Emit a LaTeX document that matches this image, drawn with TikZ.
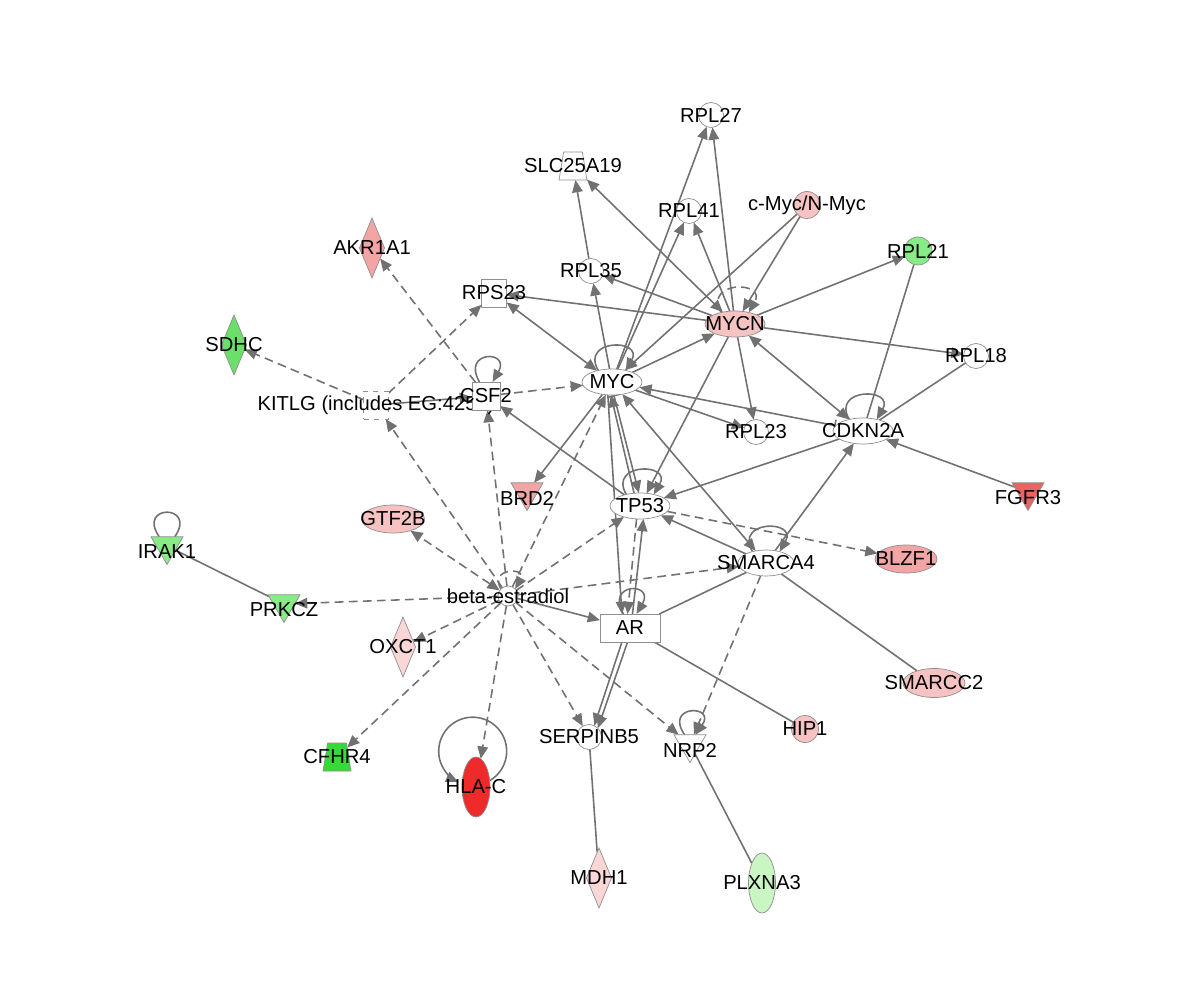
\documentclass[tikz,border=0pt]{standalone}
\usepackage{fontspec}
\setmainfont{Liberation Sans}
\usetikzlibrary{arrows.meta,shapes.geometric}

\definecolor{edgegray}{HTML}{717171}
\definecolor{rimgray}{HTML}{8F8F8F}
\definecolor{upfaint}{HTML}{FAD6D6}
\definecolor{uplow}{HTML}{F7C2C2}
\definecolor{upmid}{HTML}{F3A5A5}
\definecolor{upfgfr}{HTML}{EA6464}
\definecolor{uptop}{HTML}{EF2A2A}
\definecolor{dnfaint}{HTML}{C9F6C3}
\definecolor{dnlow}{HTML}{86EC86}
\definecolor{dnmid}{HTML}{6ADF6A}
\definecolor{dnhigh}{HTML}{36D936}

\pgfdeclarelayer{background}
\pgfsetlayers{background,main}

\tikzset{
  gene/.style={draw=rimgray, line width=0.4pt, fill=white, inner sep=0pt, outer sep=0pt},
  other/.style={gene, circle, minimum size=0.5cm},
  tfac/.style={gene, ellipse, minimum width=1.2cm, minimum height=0.52cm},
  enzyme/.style={gene, diamond, minimum width=0.5cm, minimum height=1.2cm},
  kinase/.style={gene, inner sep=0.5pt, regular polygon, regular polygon sides=3, shape border rotate=180, minimum size=0.74cm},
  transp/.style={gene, inner sep=1pt, trapezium, trapezium angle=76, trapezium stretches=true, minimum width=0.56cm, minimum height=0.56cm},
  cytok/.style={gene, rectangle, minimum width=0.5cm, minimum height=0.56cm},
  growth/.style={cytok, dashed},
  recep/.style={gene, rectangle, minimum width=1.2cm, minimum height=0.56cm},
  chem/.style={gene, circle, minimum size=0.4cm},
  kl/.style={yshift=-0.12cm},
  every label/.style={inner sep=0pt, text=black},
  ind/.style={dash pattern=on 5pt off 3pt}
}

\begin{document}
\begin{tikzpicture}[x=0.02cm, y=-0.02cm, font=\fontsize{11.5}{13}\selectfont,
  >={Triangle[length=7pt,width=6pt]}]
	\useasboundingbox (0,0) rectangle (1200,1006);

	\node[other, label=center:RPL27] (rpl27) at (711,115) {};
	\node[transp, label=center:SLC25A19] (slc) at (573,166) {};
	\node[other, label=center:RPL41] (rpl41) at (689,211) {};
	\node[other, fill=uplow, minimum size=0.54cm, label=center:c-Myc/N-Myc] (cmyc) at (807,205) {};
	\node[other, label=center:RPL35] (rpl35) at (591,271) {};
	\node[cytok, label=center:RPS23] (rps23) at (494,293) {};
	\node[enzyme, fill=upmid, label=center:AKR1A1] (akr) at (372,248) {};
	\node[other, fill=dnlow, minimum size=0.56cm, label=center:RPL21] (rpl21) at (918,251) {};
	\node[enzyme, fill=dnmid, label=center:SDHC] (sdhc) at (234,345) {};
	\node[tfac, fill=uplow, label=center:MYCN] (mycn) at (735,324) {};
	\node[other, label=center:RPL18] (rpl18) at (976,356) {};
	\node[tfac, label=center:MYC] (myc) at (612,382) {};
	\node[growth, label=center:{KITLG (includes EG:4254)}] (kitlg) at (376,405) {};
	\node[cytok, minimum width=0.56cm, label=center:CSF2] (csf2) at (486,396) {};
	\node[other, label=center:RPL23] (rpl23) at (756,432) {};
	\node[tfac, label=center:CDKN2A] (cdkn2a) at (863,431) {};
	\node[kinase, fill=upfgfr, label={[kl]center:FGFR3}] (fgfr3) at (1028,492) {};
	\node[kinase, fill=upmid, label={[kl]center:BRD2}] (brd2) at (527,492) {};
	\node[tfac, label=center:TP53] (tp53) at (640,506) {};
	\node[tfac, fill=uplow, minimum width=1.26cm, minimum height=0.56cm, label=center:GTF2B] (gtf2b) at (393,519) {};
	\node[tfac, fill=upmid, minimum width=1.24cm, minimum height=0.56cm, label=center:BLZF1] (blzf1) at (906,559) {};
	\node[tfac, minimum width=1.12cm, label=center:SMARCA4] (smarca4) at (766,563) {};
	\node[kinase, fill=dnlow, label={[kl]center:IRAK1}] (irak1) at (167,546) {};
	\node[chem, label=center:beta-estradiol] (estr) at (508,596) {};
	\node[kinase, fill=dnlow, label={[kl]center:PRKCZ}] (prkcz) at (284,604) {};
	\node[recep, label=center:AR] (ar) at (630,628) {};
	\node[enzyme, fill=upfaint, label=center:OXCT1] (oxct1) at (403,647) {};
	\node[tfac, fill=uplow, minimum width=1.24cm, minimum height=0.58cm, label=center:SMARCC2] (smarcc2) at (934,683) {};
	\node[other, fill=uplow, minimum size=0.54cm, label=center:HIP1] (hip1) at (805,729) {};
	\node[transp, fill=dnhigh, label=center:CFHR4] (cfhr4) at (337,757) {};
	\node[tfac, fill=uptop, minimum width=0.56cm, minimum height=1.2cm, label=center:HLA-C] (hlac) at (476,787) {};
	\node[other, label=center:SERPINB5] (serpin) at (589,737) {};
	\node[kinase, label={[kl]center:NRP2}] (nrp2) at (690,744) {};
	\node[enzyme, fill=upfaint, label=center:MDH1] (mdh1) at (599,878) {};
	\node[tfac, fill=dnfaint, minimum width=0.54cm, minimum height=1.2cm, label=center:PLXNA3] (plxna3) at (762,883) {};

	\begin{pgfonlayer}{background}
	\begin{scope}[edgegray, line width=0.9pt]
	\draw[->] (myc) -- (rpl27);
	\draw[->] (mycn) -- (rpl27);
	\draw[->] (myc) -- (rpl41);
	\draw[->] (mycn) -- (rpl41);
	\draw[->] (rpl35) -- (slc);
	\draw[<->] (mycn) -- (slc);
	\draw[->] (mycn) -- (rpl35);
	\draw[->] (myc) -- (rpl35);
	\draw[->] (mycn) -- (rps23);
	\draw[<->] (myc) -- (rps23);
	\draw[->] (cmyc) -- (myc);
	\draw[->] (cmyc) -- (mycn);
	\draw[->] (myc) -- (mycn);
	\draw[->] (mycn) -- (rpl21);
	\draw[->] (mycn) -- (rpl18);
	\draw[->] (mycn) -- (rpl23);
	\draw[->] (myc) -- (rpl23);
	\draw[<->] (mycn) -- (cdkn2a);
	\draw[->] (mycn) -- (tp53);
	\draw[<-|] (myc) -- (cdkn2a);
	\draw (cdkn2a) -- (rpl21);
	\draw (cdkn2a) -- (rpl18);
	\draw[->] (cdkn2a) -- (tp53);
	\draw[->] (smarca4) -- (cdkn2a);
	\draw[->] (fgfr3) -- (cdkn2a);
	\draw[->] (smarca4) -- (tp53);
	\draw[<->] (myc) -- (smarca4);
	\draw[->] (tp53) -- (csf2);
	\draw[->] (myc) -- (brd2);
	\draw[->] (tp53.115) -- (myc.-95);
	\draw[|->] (myc.-82) -- (tp53.95);
	\draw[->] (myc.-108) -- (ar.120);
	\draw[->] (ar.80) -- (tp53.-75);
	\draw[ind, ->] (tp53.-105) -- (ar.100);
	\draw (ar) -- (smarca4);
	\draw[->] (ar.-120) -- (serpin.65);
	\draw[->] (ar.-100) -- (serpin.45);
	\draw (ar) -- (hip1);
	\draw (smarca4) -- (smarcc2);
	\draw (serpin) -- (mdh1);
	\draw (nrp2) -- (plxna3);
	\draw (irak1) -- (prkcz);
	\draw[ind, ->] (smarca4) -- (nrp2);
	\draw[ind, ->] (tp53) -- (blzf1);
	\draw[->] (estr) -- (ar);
	\draw[ind, ->] (estr) -- (myc);
	\draw[ind, ->] (estr) -- (csf2);
	\draw[ind, ->] (estr) -- (tp53);
	\draw[ind, ->] (estr) -- (kitlg);
	\draw[ind, <->] (estr) -- (gtf2b);
	\draw[ind, ->] (estr) -- (smarca4);
	\draw[ind, ->] (estr) -- (prkcz);
	\draw[ind, ->] (estr) -- (oxct1);
	\draw[ind, ->] (estr) -- (cfhr4);
	\draw[ind, ->] (estr) -- (hlac);
	\draw[ind, ->] (estr) -- (serpin);
	\draw[ind, ->] (estr) -- (nrp2);
	\draw[->] (kitlg) -- (csf2);
	\draw[ind, ->] (kitlg) -- (sdhc);
	\draw[ind, ->] (kitlg) -- (rps23);
	\draw[ind, ->] (csf2) -- (akr);
	\draw[ind, ->] (csf2) -- (myc);
	\draw[->] (myc.140) .. controls +(120:0.74cm) and +(60:0.74cm) .. (myc.40);
	\draw[ind, ->] (mycn.140) .. controls +(120:0.74cm) and +(60:0.74cm) .. (mycn.40);
	\draw[->] (cdkn2a.140) .. controls +(120:0.74cm) and +(60:0.74cm) .. (cdkn2a.40);
	\draw[->] (tp53.140) .. controls +(120:0.74cm) and +(60:0.74cm) .. (tp53.40);
	\draw[->] (smarca4.140) .. controls +(120:0.74cm) and +(60:0.74cm) .. (smarca4.40);
	\draw[->] (ar.115) .. controls +(120:0.74cm) and +(60:0.74cm) .. (ar.65);
	\draw[->] (csf2.115) .. controls +(120:0.74cm) and +(60:0.74cm) .. (csf2.65);
	\draw[->] (nrp2.120) .. controls +(125:0.74cm) and +(55:0.74cm) .. (nrp2.60);
	\draw (irak1.130) .. controls +(125:0.8cm) and +(55:0.8cm) .. (irak1.50);
	\draw[ind, ->] (estr.135) .. controls +(120:0.5cm) and +(60:0.5cm) .. (estr.45);
	\draw[->] (hlac.25) arc[start angle=-60, end angle=245, radius=0.68cm];
	\end{scope}
	\end{pgfonlayer}
\end{tikzpicture}
\end{document}
